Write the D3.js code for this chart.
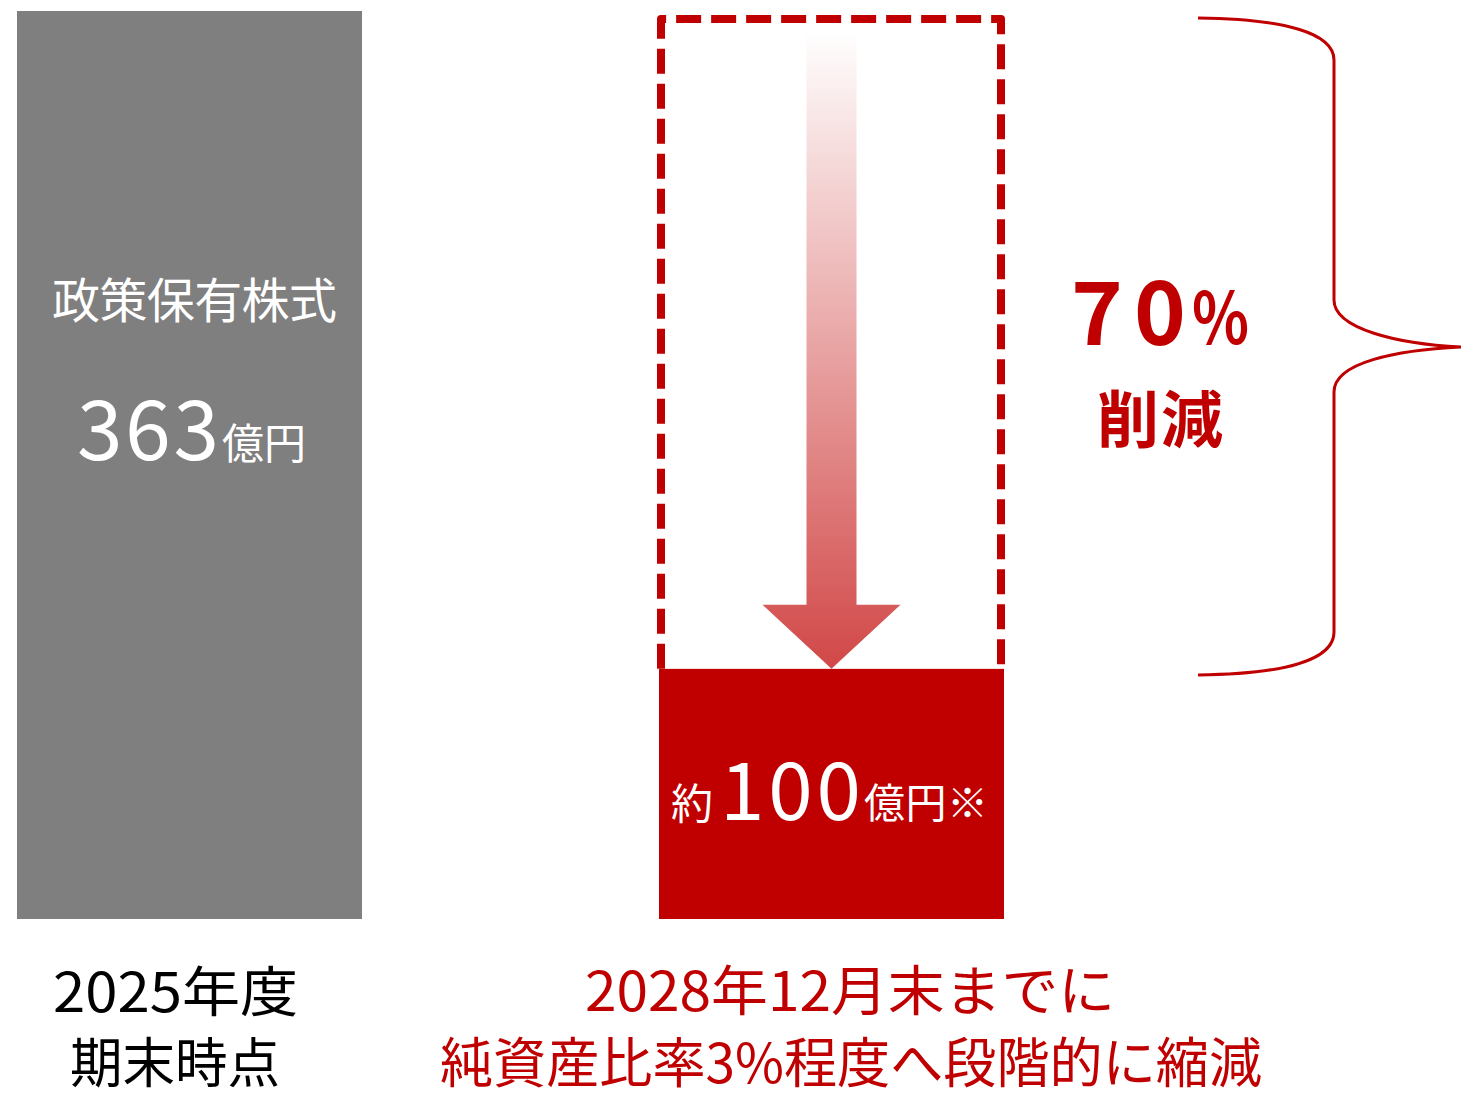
<!DOCTYPE html>
<html><head><meta charset="utf-8">
<script src="https://cdn.jsdelivr.net/npm/d3@7"></script>
<style>
body{margin:0;background:#fff}
text{font-family:"Noto Sans CJK JP","Noto Sans CJK SC",sans-serif}
</style></head>
<body><svg id="c" width="1461" height="1099"></svg>
<script>
// ---- data ----
const categories = ["2025年度期末時点", "2028年12月末"];
const values = [363, 100];
const barColors = ["#7F7F7F", "#C00000"];
const barTitle = "政策保有株式";
const unit = "億円";
const reductionLabel = ["70", "%", "削減"];
const bottomLabels = [["2025年度", "期末時点"], ["2028年12月末までに", "純資産比率3%程度へ段階的に縮減"]];

const RED = "#C00000";
const svg = d3.select("#c");

const x = d3.scaleBand().domain(categories).range([17, 1004]).paddingInner(297 / 642).paddingOuter(0);
const y = d3.scaleLinear().domain([0, values[0]]).range([919, 11]);

// bars
svg.selectAll("rect.bar").data(values).join("rect")
  .attr("class", "bar")
  .attr("x", (d, i) => x(categories[i]))
  .attr("y", d => y(d))
  .attr("width", x.bandwidth())
  .attr("height", d => y(0) - y(d))
  .attr("fill", (d, i) => barColors[i]);

// dashed outline showing the former level on the second bar
const x2 = x(categories[1]);
const topY = y(values[0]) + 8;
const botY = y(values[1]);
svg.append("path")
  .attr("d", `M${x2 + 2},${botY} L${x2 + 2},${topY} L${x2 + x.bandwidth() - 3},${topY} L${x2 + x.bandwidth() - 3},${botY}`)
  .attr("fill", "none").attr("stroke", RED).attr("stroke-width", 8)
  .attr("stroke-linejoin", "round")
  .attr("stroke-dasharray", "25 10");

// gradient arrow
const defs = svg.append("defs");
const shaftTop = y(values[0]) + 19;
const tipY = y(values[1]);
const grad = defs.append("linearGradient").attr("id", "ag")
  .attr("gradientUnits", "userSpaceOnUse").attr("x1", 0).attr("x2", 0)
  .attr("y1", shaftTop).attr("y2", tipY);
grad.append("stop").attr("offset", 0).attr("stop-color", RED).attr("stop-opacity", 0);
grad.append("stop").attr("offset", 1).attr("stop-color", RED).attr("stop-opacity", 0.72);
const cx = x2 + x.bandwidth() / 2;
const headTop = tipY - 64;
svg.append("path")
  .attr("d", `M${cx - 25},${shaftTop} L${cx + 25},${shaftTop} L${cx + 25},${headTop} L${cx + 69},${headTop} L${cx},${tipY} L${cx - 69},${headTop} L${cx - 25},${headTop} Z`)
  .attr("fill", "url(#ag)");

// brace
svg.append("path")
  .attr("d", "M1198,18 C1285,19 1334,33 1334,60 L1334,300 C1334,329 1398,344 1461,347 C1398,350 1334,362 1334,392 L1334,632 C1334,660 1285,674 1198,675")
  .attr("fill", "none").attr("stroke", RED).attr("stroke-width", 3);

// labels in gray bar
svg.append("text").attr("x", 52).attr("y", 318).attr("textLength", 285)
  .attr("font-size", 48).attr("fill", "#fff").text(barTitle);
svg.append("text").attr("x", 77).attr("y", 460).attr("textLength", 142)
  .attr("font-size", 82).attr("fill", "#fff").text(values[0]);
svg.append("text").attr("x", 222).attr("y", 459).attr("textLength", 84)
  .attr("font-size", 42).attr("fill", "#fff").text(unit);

// labels in red bar
svg.append("text").attr("x", 671).attr("y", 819).attr("textLength", 42)
  .attr("font-size", 42).attr("fill", "#fff").text("約");
svg.append("text").attr("x", 720).attr("y", 820).attr("textLength", 141)
  .attr("font-size", 80).attr("fill", "#fff").text(values[1]);
svg.append("text").attr("x", 864).attr("y", 818).attr("textLength", 124)
  .attr("font-size", 41).attr("fill", "#fff").text(unit + "※");

// reduction label
svg.append("text").attr("x", 1071).attr("y", 345).attr("textLength", 115)
  .attr("font-size", 88).attr("font-weight", "bold").attr("fill", RED).text(reductionLabel[0]);
svg.append("text").attr("x", 1192).attr("y", 344).attr("textLength", 57)
  .attr("lengthAdjust", "spacingAndGlyphs")
  .attr("font-size", 72).attr("font-weight", "bold").attr("fill", RED).text(reductionLabel[1]);
svg.append("text").attr("x", 1097).attr("y", 443).attr("textLength", 126)
  .attr("font-size", 62).attr("font-weight", "bold").attr("fill", RED).text(reductionLabel[2]);

// bottom labels
const bl = [
  {t: bottomLabels[0][0], x: 53, y: 1012, w: 245, c: "#000"},
  {t: bottomLabels[0][1], x: 70, y: 1083, w: 210, c: "#000"},
  {t: bottomLabels[1][0], x: 585, y: 1011, w: 530, c: RED},
  {t: bottomLabels[1][1], x: 440, y: 1083, w: 822, c: RED}
];
svg.selectAll("text.bl").data(bl).join("text").attr("class", "bl")
  .attr("x", d => d.x).attr("y", d => d.y).attr("textLength", d => d.w)
  .attr("lengthAdjust", "spacingAndGlyphs")
  .attr("font-size", 54).attr("fill", d => d.c).text(d => d.t);
</script>
</body></html>
